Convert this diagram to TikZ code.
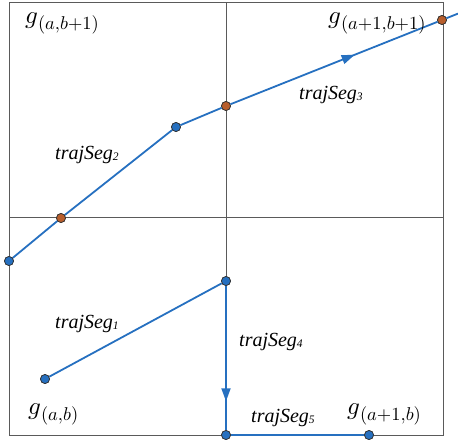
\documentclass[tikz,border=0pt]{standalone}
\usepackage[no-math]{fontspec}
\usepackage{graphicx}
\setmainfont{Liberation Serif}
\usetikzlibrary{decorations.markings,arrows.meta}
\definecolor{trajblue}{RGB}{38,112,192}
\definecolor{crossbrown}{RGB}{184,94,44}
\definecolor{gridgray}{RGB}{90,90,90}
\newcommand\tseg[1]{\textit{trajSeg\raisebox{-1.5pt}{\fontsize{11.5}{11.5}\selectfont #1}}}
\newcommand\gcell[1]{\scalebox{2.5}{$g$}\raisebox{-6pt}{\scalebox{1.85}{$#1$}}}
\tikzset{
  gridline/.style={draw=gridgray, line width=0.9pt},
  traj/.style={draw=trajblue, line width=1.8pt},
  pt/.style={circle, inner sep=0pt, minimum size=9pt, fill=trajblue, draw=black!80, line width=0.7pt},
  cross/.style={pt, fill=crossbrown},
  seglabel/.style={anchor=base west, inner sep=0pt, font=\fontsize{20}{23}\selectfont},
  glabel/.style={anchor=base west, inner sep=0pt},
  midarrow/.style={postaction={decorate}, decoration={markings, mark=at position #1 with {\arrow{Triangle[length=13pt,width=9pt]}}}}
}
\begin{document}
\begin{tikzpicture}[x=1pt,y=-1pt]
\useasboundingbox (0,0) rectangle (458,440);
% grid
\draw[gridline] (9,2) rectangle (443,435);
\draw[gridline] (226,2) -- (226,435);
\draw[gridline] (9,217) -- (443,217);
% points
\node[pt] (a1) at (45,379) {};
\node[pt] (a2) at (226,281) {};
\node[pt] (a3) at (226,435) {};
\node[pt] (a4) at (369,435) {};
\node[pt] (b1) at (9,261) {};
\node[cross] (b2) at (61,218) {};
\node[pt] (b3) at (176,127) {};
\node[cross] (b4) at (226,106) {};
\node[cross] (b5) at (442,20) {};
\coordinate (bend) at (458,13.6);
% trajectories
\draw[traj] (a1) -- (a2);
\draw[traj, midarrow=0.8] (a2) -- (a3);
\draw[traj] (a3) -- (a4);
\draw[traj] (b1) -- (b2);
\draw[traj] (b2) -- (b3);
\draw[traj] (b3) -- (b4);
\draw[traj, midarrow=0.6] (b4) -- (b5);
\draw[traj] (b5) -- (bend);
% redraw points on top
\foreach \n in {a1,a2,a3,a4,b1,b3}{\node[pt] at (\n) {};}
\foreach \n in {b2,b4,b5}{\node[cross] at (\n) {};}
% labels
\node[seglabel] (l1) at (55,328) {\tseg{1}};
\node[seglabel] (l2) at (55,159) {\tseg{2}};
\node[seglabel] (l3) at (299,99) {\tseg{3}};
\node[seglabel] (l4) at (239,346) {\tseg{4}};
\node[seglabel] (l5) at (251,422) {\tseg{5}};
\node[glabel] (g1) at (25,23.5) {\gcell{(a{,}b{+}1)}};
\node[glabel] (g2) at (328,23.5) {\gcell{(a{+}1{,}b{+}1)}};
\node[glabel] (g3) at (28,414) {\gcell{(a{,}b)}};
\node[glabel] (g4) at (347,414) {\gcell{(a{+}1{,}b)}};
\end{tikzpicture}
\end{document}
